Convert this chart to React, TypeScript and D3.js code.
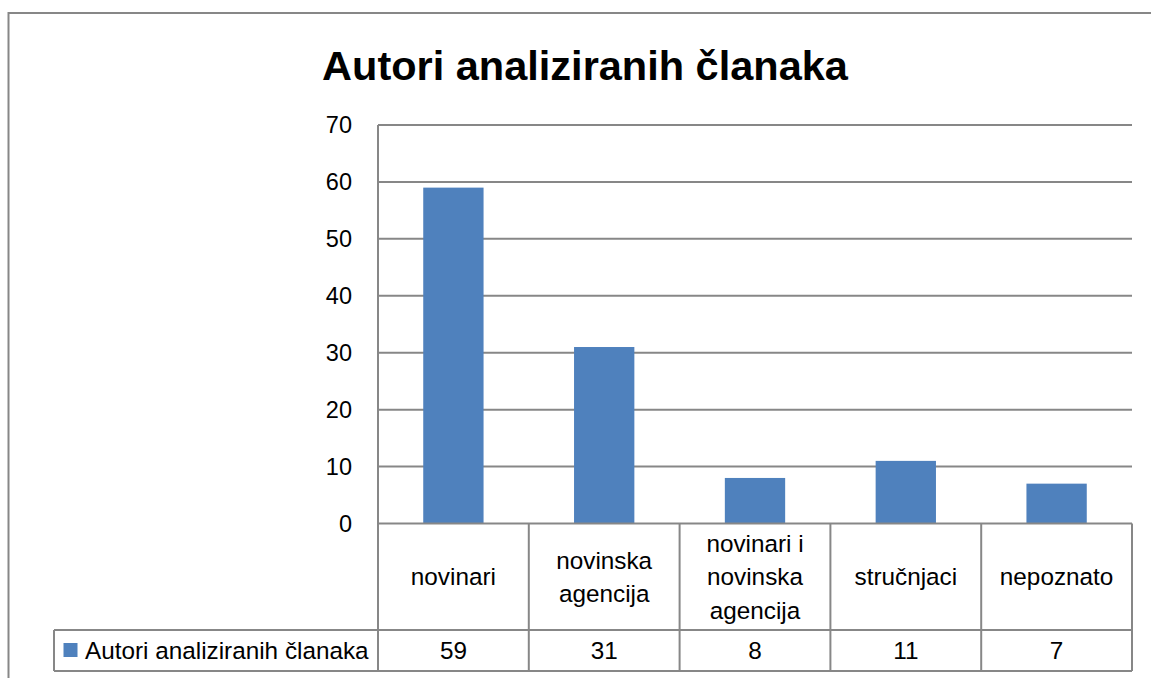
import React from "react";
import * as d3 from "d3";

const title = "Autori analiziranih članaka";
const seriesName = "Autori analiziranih članaka";
const categories = ["novinari", "novinska agencija", "novinari i novinska agencija", "stručnjaci", "nepoznato"];
const categoryLines = [["novinari"], ["novinska", "agencija"], ["novinari i", "novinska", "agencija"], ["stručnjaci"], ["nepoznato"]];
const values = [59, 31, 8, 11, 7];
const yTicks = [0, 10, 20, 30, 40, 50, 60, 70];

const W = 1151;
const H = 678;
const plotLeft = 378;
const plotRight = 1132;
const plotTop = 125;
const plotBottom = 523.5;
const headerBottom = 630;
const tableBottom = 671;
const legendLeft = 54;
const FONT = "'Liberation Sans', Arial, sans-serif";
const GRID = "#878787";
const BAR = "#4F81BD";

export default function App() {
  const x = d3.scaleBand<string>().domain(categories).range([plotLeft, plotRight]).paddingInner(0.6).paddingOuter(0.3);
  const xCol = d3.scaleBand<string>().domain(categories).range([plotLeft, plotRight]).padding(0);
  const y = d3.scaleLinear().domain([0, 70]).range([plotBottom, plotTop]);
  const headerMid = (plotBottom + headerBottom) / 2;
  const rowMid = (headerBottom + tableBottom) / 2;
  const lh = 33.5;
  const fs = 24.3;

  return (
    <svg width={W} height={H} style={{ position: "absolute", left: 0, top: 0, background: "#fff" }} fontFamily={FONT}>
      <rect x={0} y={0} width={W} height={H} fill="#fff" />
      <rect x={8.5} y={13} width={1200} height={720} fill="none" stroke={GRID} strokeWidth={2} />
      <text x={585} y={80} textAnchor="middle" fontSize={41.5} fontWeight="bold" fill="#000">{title}</text>

      {yTicks.map((t) => (
        <g key={t}>
          {t > 0 && <line x1={plotLeft} x2={plotRight} y1={y(t)} y2={y(t)} stroke={GRID} strokeWidth={2} />}
          <text x={352} y={y(t)} dy="0.36em" textAnchor="end" fontSize={23.5} fill="#000">{t}</text>
        </g>
      ))}

      {categories.map((c, i) => (
        <rect key={c} x={x(c)!} y={y(values[i])} width={x.bandwidth()} height={plotBottom - y(values[i])} fill={BAR} />
      ))}

      {/* table */}
      <line x1={plotLeft} x2={plotRight} y1={plotBottom} y2={plotBottom} stroke={GRID} strokeWidth={2} />
      <line x1={legendLeft} x2={plotRight} y1={headerBottom} y2={headerBottom} stroke={GRID} strokeWidth={2} />
      <line x1={legendLeft} x2={plotRight} y1={tableBottom} y2={tableBottom} stroke={GRID} strokeWidth={2} />
      <line x1={legendLeft} x2={legendLeft} y1={headerBottom} y2={tableBottom} stroke={GRID} strokeWidth={2} />
      <line x1={plotLeft} x2={plotLeft} y1={plotTop} y2={tableBottom} stroke={GRID} strokeWidth={2} />
      {categories.map((c) => (
        <line key={c} x1={xCol(c)! + xCol.bandwidth()} x2={xCol(c)! + xCol.bandwidth()} y1={plotBottom} y2={tableBottom} stroke={GRID} strokeWidth={2} />
      ))}

      {categories.map((c, i) => {
        const lines = categoryLines[i];
        const cx = xCol(c)! + xCol.bandwidth() / 2;
        const start = headerMid - ((lines.length - 1) * lh) / 2;
        return (
          <g key={c}>
            {lines.map((l, j) => (
              <text key={j} x={cx} y={start + j * lh} dy="0.36em" textAnchor="middle" fontSize={fs} fill="#000">{l}</text>
            ))}
            <text x={cx} y={rowMid} dy="0.36em" textAnchor="middle" fontSize={fs} fill="#000">{values[i]}</text>
          </g>
        );
      })}

      <rect x={63.5} y={643} width={14} height={14} fill={BAR} />
      <text x={85} y={rowMid} dy="0.36em" fontSize={fs} fill="#000">{seriesName}</text>
    </svg>
  );
}
